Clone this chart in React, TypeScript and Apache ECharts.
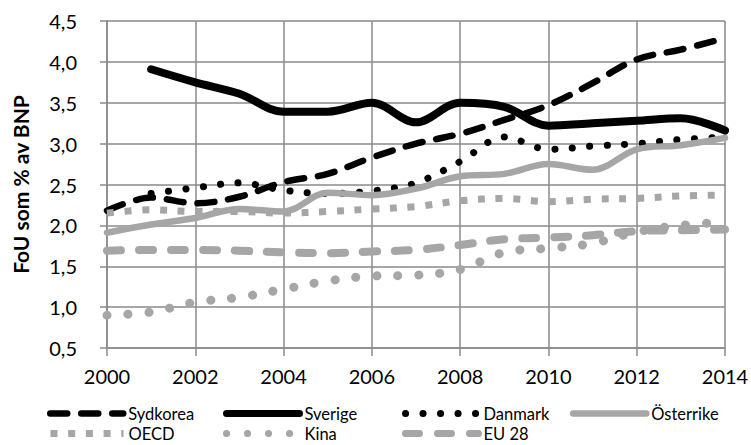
import React, { useEffect, useRef } from "react";
import * as echarts from "echarts";

const years = [2000, 2001, 2002, 2003, 2004, 2005, 2006, 2007, 2008, 2009, 2010, 2011, 2012, 2013, 2014];
const sydkorea = [2.18, 2.34, 2.27, 2.35, 2.53, 2.63, 2.83, 3.0, 3.12, 3.29, 3.47, 3.74, 4.03, 4.15, 4.29];
const sverige = [null, 3.91, 3.75, 3.61, 3.39, 3.39, 3.5, 3.26, 3.5, 3.45, 3.22, 3.25, 3.28, 3.31, 3.16];
const danmark = [null, 2.39, 2.46, 2.52, 2.43, 2.39, 2.42, 2.52, 2.78, 3.08, 2.93, 2.97, 3.0, 3.05, 3.08];
const osterrike = [1.91, 2.01, 2.09, 2.2, 2.17, 2.4, 2.37, 2.45, 2.6, 2.63, 2.75, 2.68, 2.93, 2.98, 3.07];
const oecd = [2.15, 2.19, 2.17, 2.17, 2.15, 2.17, 2.2, 2.23, 2.3, 2.33, 2.29, 2.32, 2.33, 2.36, 2.37];
const kina = [0.9, 0.94, 1.06, 1.12, 1.22, 1.32, 1.38, 1.39, 1.46, 1.67, 1.72, 1.78, 1.92, 2.0, 2.04];
const eu28 = [1.69, 1.7, 1.7, 1.69, 1.67, 1.66, 1.68, 1.7, 1.76, 1.83, 1.85, 1.88, 1.93, 1.94, 1.95];

const yTicks = { min: 0.5, max: 4.5, interval: 0.5 };
const xTicks = { min: 2000, max: 2014, interval: 2 };

const BLACK = "#000000";
const GRAY = "#a6a6a6";
const GRID = "#8a8a8a";
const FONT = "Lato";

type S = {
  name: string;
  values: (number | null)[];
  color: string;
  width: number;
  type: any;
  cap: "round" | "butt";
};

const seriesDefs: S[] = [
  { name: "Sydkorea", values: sydkorea, color: BLACK, width: 6.5, type: [17, 14], cap: "round" },
  { name: "Sverige", values: sverige, color: BLACK, width: 8, type: "solid", cap: "round" },
  { name: "Danmark", values: danmark, color: BLACK, width: 7, type: [0.1, 17.4], cap: "round" },
  { name: "Österrike", values: osterrike, color: GRAY, width: 6.5, type: "solid", cap: "round" },
  { name: "OECD", values: oecd, color: GRAY, width: 7, type: [7, 10.7], cap: "butt" },
  { name: "Kina", values: kina, color: GRAY, width: 9, type: [0.1, 20.9], cap: "round" },
  { name: "EU 28", values: eu28, color: GRAY, width: 8, type: [14, 18], cap: "round" },
];

const legendPos = [
  { left: 47, top: 405 },
  { left: 223, top: 405 },
  { left: 402, top: 405 },
  { left: 570, top: 405 },
  { left: 47, top: 425 },
  { left: 223, top: 425 },
  { left: 402, top: 425 },
];

export default function App() {
  const ref = useRef<HTMLDivElement>(null);
  useEffect(() => {
    if (!ref.current) return;
    const chart = echarts.init(ref.current, null, { renderer: "svg" });
    chart.setOption({
      animation: false,
      backgroundColor: "#ffffff",
      textStyle: { fontFamily: FONT },
      grid: {
        left: 107,
        right: 26,
        top: 21,
        bottom: 97,
        containLabel: false,
        outerBoundsMode: "none",
      },
      legend: seriesDefs.map((s, i) => ({
        data: [s.name],
        orient: "horizontal",
        align: "left",
        left: legendPos[i].left,
        top: legendPos[i].top,
        padding: 0,
        itemWidth: 73,
        itemHeight: 12,
        itemGap: 5,
        selectedMode: false,
        textStyle: { fontFamily: FONT, fontSize: 16.5, lineHeight: 16, color: "#000", padding: [0, 0, 0, 0] },
        lineStyle: { width: Math.min(s.width, 7), type: s.type, cap: s.cap, color: s.color },
        itemStyle: { opacity: 0 },
      })),
      xAxis: {
        type: "value",
        min: xTicks.min,
        max: xTicks.max,
        interval: xTicks.interval,
        axisLine: { show: true, lineStyle: { color: GRID, width: 1.5 } },
        axisTick: { show: true, length: 8, lineStyle: { color: GRID, width: 1.5 } },
        axisLabel: {
          margin: 18,
          fontSize: 20,
          fontFamily: FONT,
          color: "#000",
          formatter: (v: number) => String(v),
        },
        splitLine: { show: true, lineStyle: { color: GRID, width: 1.5 } },
      },
      yAxis: {
        type: "value",
        min: yTicks.min,
        max: yTicks.max,
        interval: yTicks.interval,
        name: "FoU som % av BNP",
        nameLocation: "middle",
        nameGap: 76,
        nameTextStyle: { fontFamily: FONT, fontSize: 21, fontWeight: "bold", color: "#000" },
        axisLine: { show: true, lineStyle: { color: GRID, width: 1.5 } },
        axisTick: { show: true, length: 7, lineStyle: { color: GRID, width: 1.5 } },
        axisLabel: {
          margin: 30,
          fontSize: 20,
          fontFamily: FONT,
          color: "#000",
          formatter: (v: number) => v.toFixed(1).replace(".", ","),
        },
        splitLine: { show: true, lineStyle: { color: GRID, width: 1.5 } },
      },
      series: seriesDefs.map((s) => ({
        name: s.name,
        type: "line",
        data: years.map((y, i) => [y, s.values[i]]),
        symbol: "none",
        smooth: 0.35,
        connectNulls: false,
        lineStyle: { color: s.color, width: s.width, type: s.type, cap: s.cap, join: "round" },
        itemStyle: { color: s.color },
        emphasis: { disabled: true },
      })),
    });
    return () => chart.dispose();
  }, []);
  return (
    <div
      ref={ref}
      style={{ position: "fixed", left: 0, top: 0, width: 751, height: 445, background: "#fff" }}
    />
  );
}
